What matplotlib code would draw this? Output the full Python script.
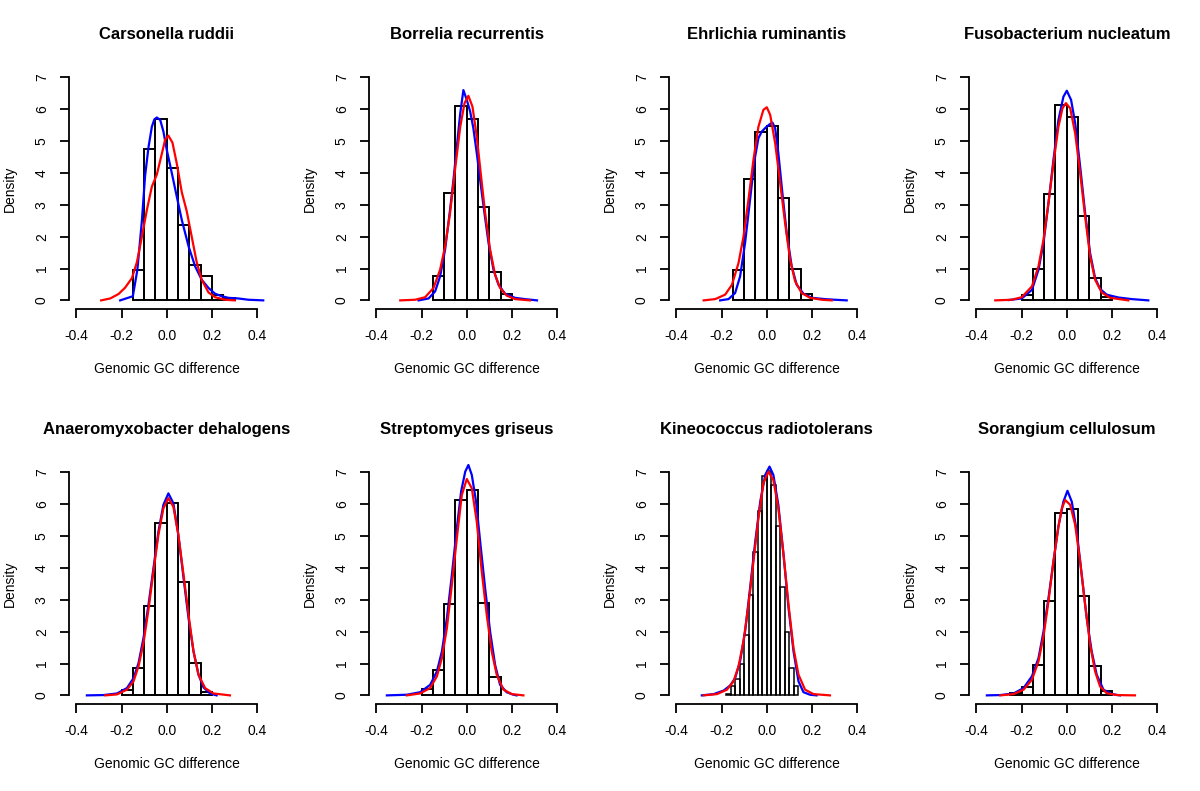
import numpy as np
import matplotlib
matplotlib.use('Agg')
import matplotlib.pyplot as plt

plt.rcParams['font.family'] = ['Liberation Sans', 'DejaVu Sans']

# titles of the eight panels.
titles = ['Carsonella ruddii', 'Borrelia recurrentis', 'Ehrlichia ruminantis',
          'Fusobacterium nucleatum', 'Anaeromyxobacter dehalogens',
          'Streptomyces griseus', 'Kineococcus radiotolerans', 'Sorangium cellulosum']

# histogram: first bin edge, bin width, bar heights (density).
hist_start = [-0.15, -0.15, -0.15, -0.2, -0.2, -0.2, -0.18, -0.25]
hist_width = [0.05, 0.05, 0.05, 0.05, 0.05, 0.05, 0.02, 0.05]
hist_heights = [
    [0.95, 4.76, 5.68, 4.15, 2.35, 1.11, 0.75, 0.18, 0.06],
    [0.76, 3.37, 6.11, 5.69, 2.92, 0.89, 0.21],
    [0.96, 3.81, 5.28, 5.48, 3.22, 0.97, 0.20],
    [0.17, 0.98, 3.35, 6.12, 5.76, 2.66, 0.70, 0.12],
    [0.18, 0.86, 2.79, 5.40, 6.03, 3.55, 1.01, 0.10],
    [0.20, 0.80, 2.87, 6.13, 6.45, 2.90, 0.57],
    [0.05, 0.30, 0.50, 1.00, 1.90, 3.15, 4.50, 5.80, 6.90, 7.05, 6.60, 5.30,
     3.40, 2.00, 0.85, 0.30],
    [0.06, 0.25, 0.94, 2.97, 5.72, 5.84, 3.12, 0.93, 0.15],
]

# blue density curves.
blue_x = [
    [-0.206, -0.15, -0.13, -0.11, -0.096, -0.081, -0.066, -0.055, -0.044, -0.029, -0.015, 0.0, 0.022, 0.044, 0.066, 0.096, 0.125, 0.154, 0.184, 0.213, 0.243, 0.272, 0.316, 0.36, 0.426],
    [-0.213, -0.169, -0.14, -0.118, -0.096, -0.074, -0.059, -0.044, -0.029, -0.015, 0.0, 0.015, 0.029, 0.044, 0.059, 0.074, 0.096, 0.118, 0.14, 0.169, 0.213, 0.257, 0.31],
    [-0.206, -0.169, -0.14, -0.118, -0.096, -0.074, -0.054, -0.037, -0.022, -0.004, 0.015, 0.025, 0.037, 0.051, 0.069, 0.088, 0.11, 0.132, 0.162, 0.199, 0.257, 0.3, 0.353],
    [-0.257, -0.199, -0.154, -0.125, -0.103, -0.081, -0.059, -0.037, -0.015, 0.0, 0.019, 0.037, 0.059, 0.081, 0.103, 0.125, 0.147, 0.176, 0.228, 0.287, 0.36],
    [-0.353, -0.279, -0.22, -0.176, -0.147, -0.125, -0.103, -0.081, -0.059, -0.037, -0.015, 0.007, 0.029, 0.051, 0.074, 0.096, 0.118, 0.14, 0.162, 0.191, 0.22],
    [-0.353, -0.265, -0.206, -0.162, -0.132, -0.11, -0.088, -0.066, -0.044, -0.025, -0.007, 0.007, 0.022, 0.041, 0.059, 0.081, 0.103, 0.125, 0.147, 0.176, 0.206, 0.22],
    [-0.287, -0.235, -0.191, -0.162, -0.14, -0.118, -0.096, -0.074, -0.051, -0.029, -0.007, 0.012, 0.029, 0.051, 0.074, 0.096, 0.118, 0.14, 0.162, 0.191, 0.22],
    [-0.353, -0.294, -0.235, -0.191, -0.154, -0.125, -0.103, -0.081, -0.059, -0.037, -0.015, 0.003, 0.022, 0.044, 0.066, 0.088, 0.11, 0.132, 0.162, 0.199, 0.235],
]
blue_y = [
    [0.0, 0.13, 0.96, 2.5, 3.9, 4.8, 5.45, 5.68, 5.74, 5.66, 5.3, 4.72, 4.0, 3.26, 2.53, 1.7, 1.07, 0.65, 0.39, 0.21, 0.13, 0.08, 0.06, 0.02, 0.0],
    [0.0, 0.06, 0.28, 0.75, 1.59, 2.84, 3.78, 4.83, 5.87, 6.6, 6.29, 5.92, 5.4, 4.62, 3.78, 2.95, 1.8, 0.96, 0.49, 0.21, 0.08, 0.04, 0.0],
    [0.0, 0.04, 0.23, 0.75, 1.8, 3.16, 4.41, 5.09, 5.3, 5.43, 5.54, 5.58, 5.4, 4.62, 3.36, 2.11, 1.07, 0.49, 0.21, 0.08, 0.04, 0.02, 0.0],
    [0.01, 0.06, 0.33, 0.96, 1.8, 3.05, 4.41, 5.66, 6.39, 6.58, 6.29, 5.56, 4.2, 2.74, 1.48, 0.7, 0.36, 0.18, 0.09, 0.04, 0.0],
    [0.0, 0.01, 0.06, 0.23, 0.54, 1.01, 1.8, 2.84, 3.99, 5.14, 5.98, 6.34, 6.03, 5.04, 3.68, 2.42, 1.38, 0.65, 0.25, 0.06, 0.0],
    [0.0, 0.02, 0.1, 0.33, 0.75, 1.38, 2.42, 3.78, 5.25, 6.4, 7.02, 7.23, 6.92, 6.08, 4.83, 3.36, 2.0, 0.96, 0.33, 0.1, 0.02, 0.0],
    [0.0, 0.04, 0.15, 0.31, 0.54, 1.07, 2.0, 3.36, 4.83, 6.08, 6.92, 7.18, 6.92, 5.98, 4.41, 2.74, 1.38, 0.44, 0.1, 0.02, 0.0],
    [0.0, 0.01, 0.06, 0.23, 0.6, 1.17, 2.0, 3.05, 4.2, 5.3, 6.08, 6.42, 6.08, 5.14, 3.78, 2.42, 1.38, 0.65, 0.18, 0.04, 0.0],
]

# red density curves.
red_x = [
    [-0.29, -0.25, -0.213, -0.184, -0.154, -0.132, -0.11, -0.088, -0.066, -0.044, -0.022, -0.007, 0.007, 0.025, 0.044, 0.066, 0.088, 0.11, 0.132, 0.154, 0.184, 0.213, 0.257, 0.3],
    [-0.294, -0.228, -0.184, -0.147, -0.118, -0.096, -0.074, -0.052, -0.029, -0.01, 0.007, 0.025, 0.044, 0.063, 0.081, 0.103, 0.125, 0.147, 0.176, 0.213, 0.279],
    [-0.279, -0.228, -0.184, -0.154, -0.125, -0.103, -0.081, -0.059, -0.037, -0.015, 0.0, 0.015, 0.037, 0.059, 0.081, 0.103, 0.125, 0.154, 0.191, 0.243, 0.287],
    [-0.316, -0.243, -0.199, -0.154, -0.125, -0.103, -0.081, -0.059, -0.037, -0.019, -0.004, 0.015, 0.037, 0.059, 0.081, 0.103, 0.125, 0.154, 0.191, 0.272],
    [-0.272, -0.22, -0.176, -0.147, -0.125, -0.103, -0.081, -0.059, -0.037, -0.015, 0.007, 0.029, 0.051, 0.074, 0.096, 0.118, 0.14, 0.169, 0.206, 0.279],
    [-0.265, -0.206, -0.162, -0.132, -0.11, -0.088, -0.066, -0.044, -0.022, 0.0, 0.022, 0.044, 0.066, 0.088, 0.11, 0.132, 0.162, 0.199, 0.25],
    [-0.279, -0.22, -0.176, -0.147, -0.125, -0.103, -0.081, -0.059, -0.037, -0.015, 0.007, 0.029, 0.051, 0.074, 0.096, 0.118, 0.14, 0.169, 0.206, 0.279],
    [-0.294, -0.235, -0.191, -0.154, -0.125, -0.103, -0.081, -0.059, -0.037, -0.022, -0.007, 0.015, 0.037, 0.059, 0.081, 0.103, 0.125, 0.147, 0.176, 0.22, 0.301],
]
red_y = [
    [0.0, 0.06, 0.2, 0.4, 0.7, 1.2, 2.0, 2.84, 3.57, 3.95, 4.6, 5.05, 5.17, 4.95, 4.3, 3.4, 2.8, 2.0, 1.2, 0.65, 0.25, 0.1, 0.02, 0.0],
    [0.0, 0.02, 0.1, 0.39, 0.96, 1.69, 2.74, 4.1, 5.45, 6.19, 6.42, 6.08, 5.14, 3.89, 2.74, 1.59, 0.8, 0.39, 0.15, 0.04, 0.0],
    [0.0, 0.04, 0.18, 0.49, 1.17, 2.0, 3.16, 4.41, 5.45, 5.98, 6.06, 5.82, 4.93, 3.68, 2.42, 1.27, 0.6, 0.23, 0.08, 0.02, 0.0],
    [0.0, 0.02, 0.1, 0.44, 1.07, 1.9, 3.05, 4.3, 5.45, 6.03, 6.19, 6.03, 5.24, 3.99, 2.63, 1.38, 0.65, 0.25, 0.08, 0.0],
    [0.0, 0.03, 0.18, 0.44, 0.91, 1.64, 2.69, 3.89, 5.04, 5.87, 6.19, 5.92, 5.04, 3.78, 2.53, 1.38, 0.65, 0.23, 0.06, 0.0],
    [0.0, 0.06, 0.23, 0.6, 1.17, 2.11, 3.47, 4.93, 6.29, 6.79, 6.5, 5.45, 3.89, 2.53, 1.38, 0.65, 0.18, 0.04, 0.0],
    [0.0, 0.04, 0.18, 0.44, 0.91, 1.69, 2.84, 4.2, 5.56, 6.66, 7.02, 6.76, 5.87, 4.41, 2.84, 1.48, 0.65, 0.18, 0.04, 0.0],
    [0.0, 0.04, 0.18, 0.49, 1.07, 1.85, 2.95, 4.2, 5.3, 5.87, 6.13, 5.98, 5.35, 4.2, 2.84, 1.59, 0.75, 0.28, 0.07, 0.01, 0.0],
]

x_ticks = [-0.4, -0.2, 0.0, 0.2, 0.4]
y_ticks = [0, 1, 2, 3, 4, 5, 6, 7]

W, H = 1200, 791
fig = plt.figure(figsize=(W / 100, H / 100), dpi=100)

for i in range(8):
    col = i % 4
    row = i // 4
    left = (69 + 300 * col) / W
    bottom = (791 - 309.3 - 395 * row) / H
    ax = fig.add_axes([left, bottom, 195.6 / W, 240.9 / H])

    # histogram bars.
    n = len(hist_heights[i])
    edges = hist_start[i] + hist_width[i] * np.arange(n)
    lw_bar = 1.4 if hist_width[i] > 0.03 else 1.1
    ax.bar(edges, hist_heights[i], width=hist_width[i], align='edge',
           fill=False, edgecolor='black', linewidth=lw_bar)

    # density curves.
    ax.plot(blue_x[i], blue_y[i], color='#0000ff', lw=1.6, solid_joinstyle='round')
    ax.plot(red_x[i], red_y[i], color='#ff0000', lw=1.6, solid_joinstyle='round')

    ax.set_xlim(-0.432, 0.432)
    ax.set_ylim(-0.28, 7.28)
    ax.set_xticks(x_ticks)
    ax.set_xticklabels(['-0.4', '-0.2', '0.0', '0.2', '0.4'])
    ax.set_yticks(y_ticks)
    ax.spines['top'].set_visible(False)
    ax.spines['right'].set_visible(False)
    ax.spines['left'].set_bounds(0, 7)
    ax.spines['bottom'].set_bounds(-0.4, 0.4)
    ax.spines['left'].set_linewidth(1.3)
    ax.spines['bottom'].set_linewidth(1.3)
    ax.tick_params(direction='out', length=6.5, width=1.3, labelsize=10, pad=8)
    for lbl in ax.get_yticklabels():
        lbl.set_rotation(90)
        lbl.set_va('center')

    ax.text(0.5, 1.139, titles[i], transform=ax.transAxes, ha='center',
            va='center', fontsize=12, fontweight='bold')
    ax.text(-0.302, 0.5, 'Density', transform=ax.transAxes, ha='center',
            va='center', rotation=90, fontsize=10)
    ax.text(0.5, -0.248, 'Genomic GC difference', transform=ax.transAxes,
            ha='center', va='center', fontsize=10)

plt.savefig('out.png', dpi=100)
